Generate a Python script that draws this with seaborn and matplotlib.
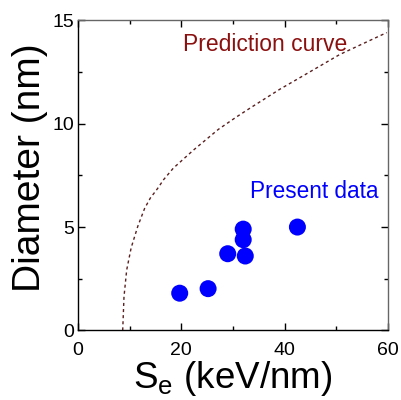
import matplotlib
matplotlib.use("Agg")
import matplotlib.pyplot as plt
import seaborn as sns
import pandas as pd
from matplotlib.ticker import MultipleLocator

# Measured data points
se_data = [19.7, 25.2, 29.0, 32.0, 32.0, 32.4, 42.5]
diam_data = [1.8, 2.02, 3.71, 4.9, 4.39, 3.6, 5.0]

# Prediction curve
se_curve = [8.66, 8.91, 9.43, 10.3, 11.6, 12.9, 14.0, 15.4, 16.6, 18.46,
            22.34, 27.2, 30.7, 33.6, 39.1, 42.5, 50.7, 59.8]
diam_curve = [0.0, 1.63, 2.92, 4.0, 5.05, 5.9, 6.4, 6.86, 7.3, 7.85,
              8.72, 9.73, 10.33, 10.8, 11.67, 12.16, 13.35, 14.41]

x_ticks = [0, 20, 40, 60]
y_ticks = [0, 5, 10, 15]

sns.set_style("ticks")
plt.rcParams['font.family'] = ['Liberation Sans', 'DejaVu Sans']
plt.rcParams['text.color'] = 'black'
plt.rcParams['axes.labelcolor'] = 'black'
plt.rcParams['xtick.color'] = 'black'
plt.rcParams['ytick.color'] = 'black'

fig = plt.figure(figsize=(4.01, 4.00), dpi=100)
ax = fig.add_axes([0.1945, 0.174, 0.7725, 0.775])

df_c = pd.DataFrame({"se": se_curve, "d": diam_curve})
df_d = pd.DataFrame({"se": se_data, "d": diam_data})

sns.lineplot(data=df_c, x="se", y="d", ax=ax, sort=False, color="#5a1f1f",
             lw=1.0, dashes=False, linestyle=(0, (2.2, 2.2)))
sns.scatterplot(data=df_d, x="se", y="d", ax=ax, color="#0000ff", s=150,
                edgecolor="none", zorder=3)

ax.text(20.3, 13.5, "Prediction curve", color="#8b1010", fontsize=16.5)
ax.text(33.3, 6.42, "Present data", color="#0000ff", fontsize=16.3)

ax.set_xlim(0, 60)
ax.set_ylim(0, 15)
ax.set_xticks(x_ticks)
ax.set_yticks(y_ticks)
ax.xaxis.set_minor_locator(MultipleLocator(10))
ax.yaxis.set_minor_locator(MultipleLocator(2.5))
ax.tick_params(which="both", direction="in", top=True, right=True, width=1.0)
ax.tick_params(which="major", length=5, labelsize=14)
ax.tick_params(axis="x", which="major", pad=8)
ax.tick_params(axis="y", which="major", pad=3)
ax.tick_params(which="minor", length=3)

for side in ["left", "bottom"]:
    ax.spines[side].set_color("black")
for side in ["top", "right"]:
    ax.spines[side].set_color("#666666")
for sp in ax.spines.values():
    sp.set_linewidth(1.0)

ax.set_xlabel(r"S$_\mathregular{e}$ (keV/nm)", fontsize=26.5, labelpad=0)
ax.set_ylabel("Diameter (nm)", fontsize=28)
ax.yaxis.set_label_coords(-0.096, 0.526)

fig.savefig("out.png", dpi=100)
